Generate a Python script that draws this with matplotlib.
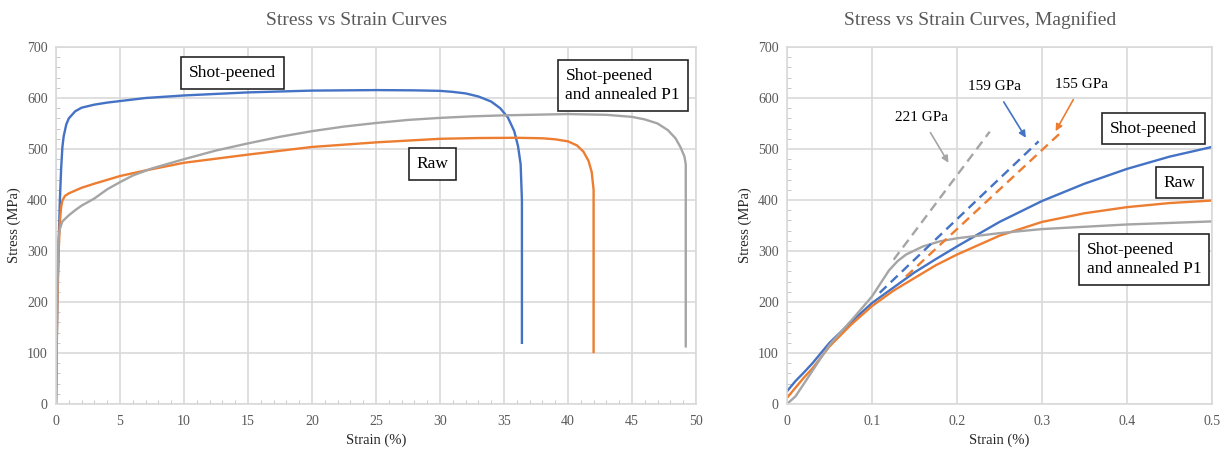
import matplotlib.pyplot as plt
from matplotlib.ticker import MultipleLocator

plt.rcParams['font.family'] = ['Liberation Serif', 'DejaVu Serif']

# --- full curves (strain %, stress MPa) ---
sp_strain = [0, 0.1, 0.2, 0.3, 0.4, 0.5, 0.6, 0.8, 1.0, 1.5, 2, 3, 4, 5, 7, 10, 12.5, 15,
             20, 25, 28, 30, 31, 32, 33, 34, 34.7, 35.3, 35.8, 36.1, 36.3, 36.4, 36.4]
sp_stress = [0, 198, 309, 398, 461, 504, 525, 548, 560, 574, 581, 587, 591, 594, 600, 605,
             608, 611, 614.5, 615.5, 615, 614, 612, 609, 603, 593, 580, 562, 535, 505, 470,
             400, 120]

raw_strain = [0, 0.1, 0.2, 0.3, 0.4, 0.5, 0.7, 1, 2, 3, 5, 7, 10, 15, 20, 25, 30, 33, 36,
              38, 39, 40, 40.7, 41.2, 41.6, 41.85, 42, 42]
raw_stress = [0, 192, 293, 357, 386, 399, 408, 413, 424, 432, 447, 458, 473, 489, 504, 513,
              520, 521.5, 522, 521, 519, 515, 507, 495, 477, 455, 420, 102]

ann_strain = [0, 0.1, 0.2, 0.3, 0.5, 1, 1.5, 2, 3, 4, 5, 6, 7.5, 10, 12.5, 15, 17.5, 20,
              22.5, 25, 27.5, 30, 32.5, 35, 40, 43, 45, 46, 47, 47.8, 48.4, 48.8, 49.1,
              49.2, 49.2]
ann_stress = [0, 211, 325, 343, 358, 370, 380, 389, 403, 421, 435, 448, 462, 480, 497, 511,
              524, 535, 544, 551, 557, 561, 564, 566, 568.5, 567, 563, 558, 550, 537, 521,
              503, 485, 470, 113]

# --- magnified region ---
m_strain = [0, 0.01, 0.02, 0.03, 0.05, 0.075, 0.1, 0.125, 0.15, 0.175, 0.2, 0.25, 0.3,
            0.35, 0.4, 0.45, 0.5]
m_sp = [25, 45, 62, 80, 120, 160, 198, 228, 258, 284, 309, 357, 398, 432, 461, 485, 504]
m_raw = [12, 32, 52, 70, 113, 155, 192, 222, 247, 272, 293, 330, 357, 374, 386, 394, 399]
m_ann_strain = [0, 0.01, 0.02, 0.05, 0.08, 0.1, 0.12, 0.13, 0.14, 0.16, 0.18, 0.2, 0.25,
                0.3, 0.4, 0.5]
m_ann = [0, 15, 40, 116, 172, 211, 262, 280, 293, 309, 319, 325, 335, 343, 352, 358]

# modulus fit lines (start, end)
fit_ann = ([0.1255, 0.2385], [283, 534])
fit_sp = ([0.109, 0.296], [218, 515])
fit_raw = ([0.14, 0.32], [250, 529])

BLUE = '#4472C4'
ORANGE = '#ED7D31'
GRAY = '#A5A5A5'
TXT = '#595959'
GRID = '#D9D9D9'

fig = plt.figure(figsize=(12.28, 4.49), dpi=100)
ax1 = fig.add_axes([56 / 1228, 45 / 449, 640 / 1228, 357 / 449])
ax2 = fig.add_axes([787 / 1228, 45 / 449, 425 / 1228, 357 / 449])


def style(ax, xmax, xmajor, xminor):
    ax.set_ylim(0, 700)
    ax.set_xlim(0, xmax)
    ax.xaxis.set_major_locator(MultipleLocator(xmajor))
    ax.yaxis.set_major_locator(MultipleLocator(100))
    ax.yaxis.set_minor_locator(MultipleLocator(20))
    if xminor:
        ax.xaxis.set_minor_locator(MultipleLocator(xminor))
    ax.grid(True, which='major', color=GRID, lw=1.2)
    ax.set_axisbelow(True)
    for s in ax.spines.values():
        s.set_color(GRID)
        s.set_linewidth(1.2)
    ax.tick_params(which='major', length=0, labelsize=10, labelcolor=TXT)
    ax.tick_params(axis='x', which='major', pad=8)
    ax.tick_params(axis='y', which='major', pad=6)
    ax.tick_params(which='minor', direction='in', length=3, color='#BFBFBF')
    ax.set_xlabel('Strain (%)', fontsize=10.5, color='#262626', labelpad=4)
    ax.set_ylabel('Stress (MPa)', fontsize=10.5, color='#262626', labelpad=4)


box = dict(boxstyle='square,pad=0.45', fc='white', ec='#262626', lw=1.2)
arrow_kw = dict(arrowstyle='-|>', lw=1.2, shrinkA=5, shrinkB=0, mutation_scale=10)

# left: full curves
ax1.plot(sp_strain, sp_stress, color=BLUE, lw=1.7)
ax1.plot(raw_strain, raw_stress, color=ORANGE, lw=1.7)
ax1.plot(ann_strain, ann_stress, color=GRAY, lw=1.7)
style(ax1, 50, 5, 1)
ax1.set_title('Stress vs Strain Curves', fontsize=14, color=TXT, pad=16, x=0.47)
ax1.text(13.8, 649, 'Shot-peened', fontsize=12.5, ha='center', va='center', bbox=box)
ax1.text(29.4, 470, 'Raw', fontsize=12.5, ha='center', va='center', bbox=box)
ax1.text(39.8, 625, 'Shot-peened\nand annealed P1', fontsize=12.5, ha='left', va='center',
         bbox=box, linespacing=1.25)

# right: magnified
ax2.plot(m_strain, m_sp, color=BLUE, lw=1.7)
ax2.plot(m_strain, m_raw, color=ORANGE, lw=1.7)
ax2.plot(m_ann_strain, m_ann, color=GRAY, lw=1.7)
ax2.plot(*fit_ann, color=GRAY, lw=1.7, ls=(0, (4, 2.5)))
ax2.plot(*fit_sp, color=BLUE, lw=1.7, ls=(0, (4, 2.5)))
ax2.plot(*fit_raw, color=ORANGE, lw=1.7, ls=(0, (4, 2.5)))
style(ax2, 0.5, 0.1, None)
ax2.set_xticks([0, 0.1, 0.2, 0.3, 0.4, 0.5], ['0', '0.1', '0.2', '0.3', '0.4', '0.5'])
ax2.set_title('Stress vs Strain Curves, Magnified', fontsize=14, color=TXT, pad=16,
              x=0.455)

ax2.annotate('221 GPa', xy=(0.19, 473), xytext=(0.158, 562), fontsize=11, ha='center',
             va='center', arrowprops=dict(color=GRAY, **arrow_kw))
ax2.annotate('159 GPa', xy=(0.281, 522), xytext=(0.244, 622), fontsize=11, ha='center',
             va='center', arrowprops=dict(color=BLUE, **arrow_kw))
ax2.annotate('155 GPa', xy=(0.316, 535), xytext=(0.347, 627), fontsize=11, ha='center',
             va='center', arrowprops=dict(color=ORANGE, **arrow_kw))

ax2.text(0.431, 540, 'Shot-peened', fontsize=12.5, ha='center', va='center', bbox=box)
ax2.text(0.462, 434, 'Raw', fontsize=12.5, ha='center', va='center', bbox=box)
ax2.text(0.353, 283, 'Shot-peened\nand annealed P1', fontsize=12.5, ha='left', va='center',
         bbox=box, linespacing=1.25)

fig.savefig('out.png', dpi=100)
